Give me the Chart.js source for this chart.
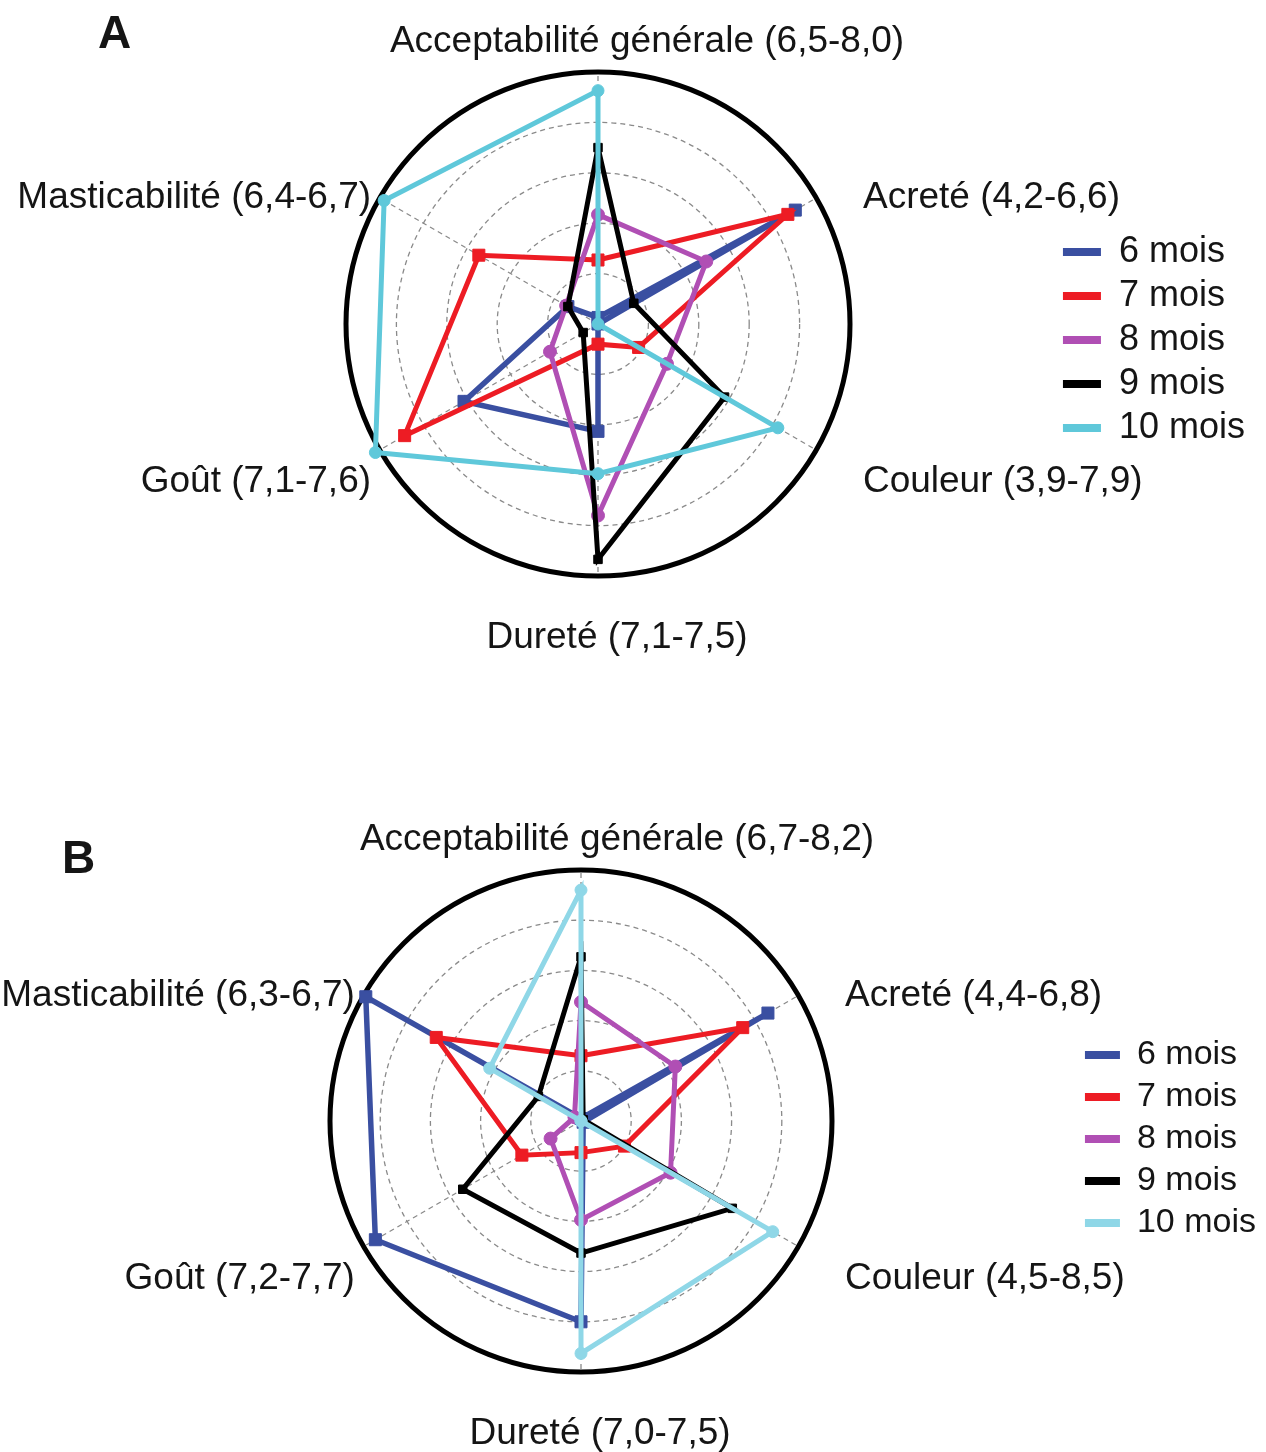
<!DOCTYPE html>
<html lang="fr">
<head>
<meta charset="utf-8">
<script src="https://cdn.jsdelivr.net/npm/chart.js@4.4.1/dist/chart.umd.min.js"></script>
<style>
    body { margin: 0; background: #fff; }
    canvas { display: block; }
</style>
</head>
<body>
<canvas id="radarA" width="1266" height="700"></canvas>
<canvas id="radarB" width="1266" height="752"></canvas>
<script>
// axes du radar (sens horaire depuis le haut)
const attributs = ['Acceptabilité générale', 'Acreté', 'Couleur', 'Dureté', 'Goût', 'Masticabilité'];
const plagesA = ['(6,5-8,0)', '(4,2-6,6)', '(3,9-7,9)', '(7,1-7,5)', '(7,1-7,6)', '(6,4-6,7)'];
const plagesB = ['(6,7-8,2)', '(4,4-6,8)', '(4,5-8,5)', '(7,0-7,5)', '(7,2-7,7)', '(6,3-6,7)'];
const periodes = ['6 mois', '7 mois', '8 mois', '9 mois', '10 mois'];

// panneau A
const a6mois = [0.13, 4.52, 0.0, 2.13, 3.07, 0.69];
const a7mois = [1.27, 4.35, 0.93, 0.40, 4.43, 2.73];
const a8mois = [2.17, 2.48, 1.58, 3.80, 1.10, 0.73];
const a9mois = [3.50, 0.82, 2.90, 4.67, 0.34, 0.69];
const a10mois = [4.63, 0.0, 4.12, 2.97, 5.10, 4.90];

// panneau B
const b6mois = [0.05, 4.30, 0.05, 4.00, 4.73, 4.95];
const b7mois = [1.30, 3.72, 1.00, 0.63, 1.36, 3.33];
const b8mois = [2.37, 2.17, 2.06, 1.97, 0.70, 0.15];
const b9mois = [3.27, 0.05, 3.48, 2.63, 2.72, 0.98];
const b10mois = [4.60, 0.0, 4.41, 4.63, 0.0, 2.10];

const couleurs = ['#3a4fa1', '#ed1c24', '#b04fb4', '#000000', '#5fc8da'];
const formes = ['rect', 'rect', 'circle', 'rect', 'circle'];
const tailles = [8.5, 8.5, 6.5, 6, 6];
const police = '"Liberation Sans", Arial, sans-serif';

const etiquettes = {
    id: 'etiquettes',
    afterDraw(chart, args, opts) {
        const r = chart.scales.r;
        const ctx = chart.ctx;
        const cx = r.xCenter + 19, cy = r.yCenter + 16;
        ctx.save();
        ctx.fillStyle = '#151515';
        ctx.font = opts.taille + 'px ' + police;
        ctx.textBaseline = 'middle';
        attributs.forEach(function (nom, i) {
            const a = r.getIndexAngle(i) - Math.PI / 2;
            const cos = Math.cos(a), sin = Math.sin(a);
            let rad = r.drawingArea + 32, dx = 0;
            let align = cos > 0.1 ? 'left' : (cos < -0.1 ? 'right' : 'center');
            if (align === 'center') {
                rad = r.drawingArea + 46;
                if (sin < 0) dx = opts.decalHaut;
            }
            ctx.textAlign = align;
            ctx.fillText(nom + ' ' + opts.plages[i], cx + cos * rad + dx, cy + sin * rad);
        });
        ctx.font = 'bold 46px ' + police;
        ctx.textAlign = 'left';
        ctx.textBaseline = 'alphabetic';
        ctx.fillText(opts.lettre, opts.lettreX, opts.lettreY);
        ctx.restore();
    }
};

function radar(id, series, cyan, cfg) {
    const cols = couleurs.slice(0, 4).concat([cyan]);
    return new Chart(document.getElementById(id), {
        type: 'radar',
        data: {
            labels: attributs,
            datasets: series.map(function (d, i) {
                return {
                    label: periodes[i],
                    data: d,
                    order: 5 - i,
                    borderColor: cols[i],
                    backgroundColor: cols[i],
                    fill: false,
                    borderWidth: i === 0 ? 5.5 : 5,
                    pointStyle: formes[i],
                    pointRadius: tailles[i],
                    pointBorderWidth: 1,
                    pointBackgroundColor: cols[i],
                    pointBorderColor: cols[i]
                };
            })
        },
        options: {
            responsive: false,
            animation: false,
            layout: { padding: cfg.padding },
            scales: {
                r: {
                    min: 0,
                    max: 5,
                    ticks: { display: false, stepSize: 1 },
                    pointLabels: { display: false },
                    grid: {
                        circular: true,
                        color: c => c.index === 5 ? '#000' : '#8a8a8a',
                        lineWidth: c => c.index === 5 ? 5 : 1.3
                    },
                    border: { dash: c => c.index === 5 ? [] : [5, 4] },
                    angleLines: { color: '#8a8a8a', lineWidth: 1.3, borderDash: [5, 4] },
                    afterFit: function (s) {
                        s.xCenter = cfg.cx;
                        s.yCenter = cfg.cy;
                        s.drawingArea = cfg.rayon;
                    }
                }
            },
            plugins: {
                tooltip: { enabled: false },
                legend: {
                    position: 'right',
                    labels: {
                        boxWidth: cfg.boite,
                        boxHeight: 8,
                        padding: 8,
                        color: '#151515',
                        font: { size: cfg.taille, family: police },
                        sort: (a, b) => a.datasetIndex - b.datasetIndex,
                        generateLabels: chart => Chart.defaults.plugins.legend.labels.generateLabels(chart)
                            .map(l => Object.assign(l, { lineWidth: 0 }))
                    }
                },
                etiquettes: {
                    plages: cfg.plages,
                    taille: 37,
                    lettre: cfg.lettre,
                    lettreX: cfg.lettreX,
                    lettreY: cfg.lettreY,
                    decalHaut: cfg.decalHaut
                }
            }
        },
        plugins: [etiquettes]
    });
}

radar('radarA', [a6mois, a7mois, a8mois, a9mois, a10mois], '#5fc8da', {
    cx: 598, cy: 324, rayon: 252,
    padding: { right: 11, bottom: 20 },
    boite: 38, taille: 36,
    plages: plagesA, lettre: 'A', lettreX: 98, lettreY: 48, decalHaut: 30
});

radar('radarB', [b6mois, b7mois, b8mois, b9mois, b10mois], '#8fd7e7', {
    cx: 581, cy: 421, rayon: 251,
    padding: { top: 126, right: 0 },
    boite: 35, taille: 34,
    plages: plagesB, lettre: 'B', lettreX: 62, lettreY: 173, decalHaut: 17
});
</script>
</body>
</html>
